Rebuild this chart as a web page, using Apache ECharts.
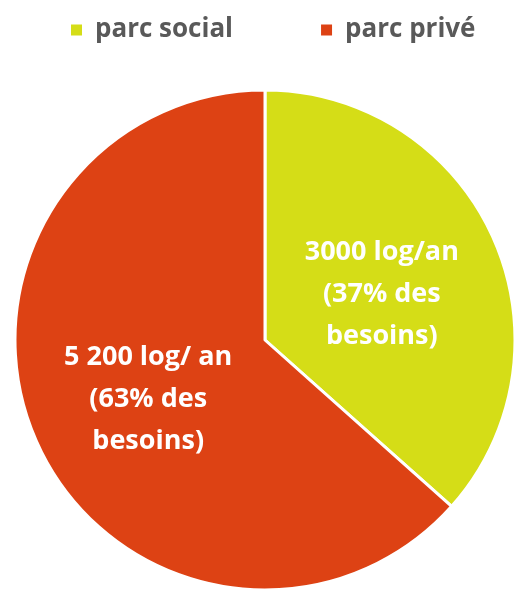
<!DOCTYPE html>
<html>
<head>
<meta charset="utf-8">
<script src="https://cdn.jsdelivr.net/npm/echarts@6/dist/echarts.min.js"></script>
<style>
	html, body { margin: 0; padding: 0; background: #fff; }
	#chart1 { width: 514px; height: 590px; }
</style>
</head>
<body>
<div id="chart1"></div>
<script>
var categories = ['parc social', 'parc privé'];
var values = [3000, 5200];
var labels = ['3000 log/an\n(37% des\nbesoins)', '5 200 log/ an\n(63% des\nbesoins)'];
var colors = ['#D5DD17', '#DD4214'];

function chart1() {
	var myChart = echarts.init(document.getElementById('chart1'));
	var data = [];
	for (var i = 0; i < categories.length; i++) {
		data.push({
			name: categories[i],
			value: values[i],
			itemStyle: { color: colors[i] }
		});
	}
	var option = {
		animation: false,
		legend: {
			data: categories,
			left: 64,
			top: 12,
			icon: 'rect',
			itemWidth: 13,
			itemHeight: 13,
			itemGap: 86,
			textStyle: {
				fontFamily: 'Open Sans',
				fontWeight: 'bold',
				fontSize: 26,
				color: '#595959',
				padding: [0, 0, 0, 7]
			}
		},
		series: [{
			type: 'pie',
			center: [265, 340],
			radius: 250,
			startAngle: 90,
			clockwise: true,
			itemStyle: {
				borderColor: '#fff',
				borderWidth: 3
			},
			label: {
				position: 'inner',
				formatter: function (p) {
					return labels[p.dataIndex];
				},
				color: '#fff',
				fontFamily: 'Open Sans',
				fontWeight: 'bold',
				fontSize: 27,
				lineHeight: 42,
				align: 'center'
			},
			labelLayout: { dy: 7 },
			labelLine: { show: false },
			data: data
		}]
	};
	myChart.setOption(option);
}

chart1();
</script>
</body>
</html>
